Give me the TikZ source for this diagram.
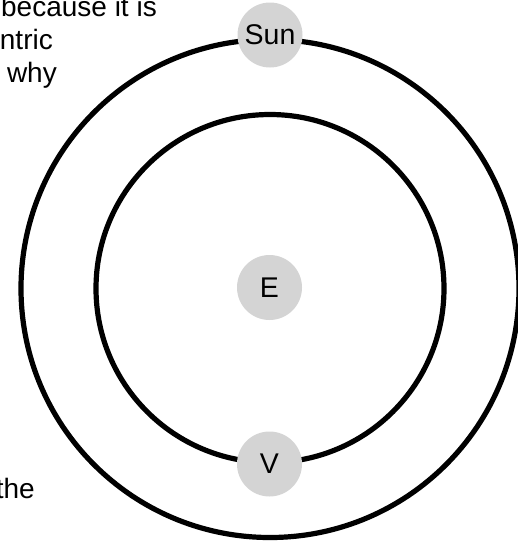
\documentclass[tikz,border=0pt]{standalone}
\usepackage{fontspec}
\setmainfont{Liberation Sans}
\begin{document}
\begin{tikzpicture}[x=1pt,y=-1pt,
  orbit/.style={draw=black,line width=5.2pt},
  body/.style={circle,fill=black!17,draw=none,minimum size=65pt,inner sep=0pt,font=\fontsize{28.5}{30}\selectfont},
  sidetext/.style={inner sep=0pt,anchor=base east,font=\fontsize{28}{33}\selectfont}]
\useasboundingbox (0,0) rectangle (518,542);
\begin{scope}
\clip (0,0) rectangle (518,542);
\coordinate (c) at (270,288.5);
\draw[orbit] (c) circle[radius=249];
\draw[orbit] (c) circle[radius=174];
\node[body] (sun) at (270,35) {Sun};
\node[body] (e) at (269.5,287.5) {E};
\node[body] (v) at (269.5,464) {V};
\node[sidetext] (t1) at (157,16) {because it is};
\node[sidetext] (t2) at (53,49) {ntric};
\node[sidetext] (t3) at (57,82) {why};
\node[sidetext] (t4) at (35,498) {the};
\end{scope}
\end{tikzpicture}
\end{document}
